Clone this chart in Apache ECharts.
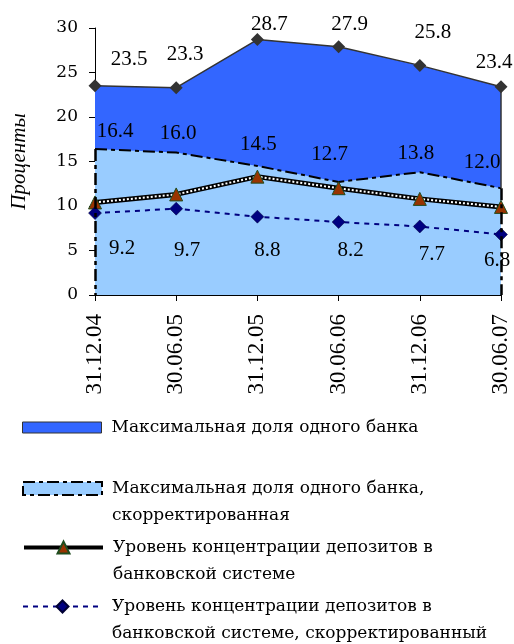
<!DOCTYPE html>
<html><head><meta charset="utf-8">
<script src="https://cdn.jsdelivr.net/npm/echarts@6/dist/echarts.min.js"></script>
<style>html,body{margin:0;padding:0;background:#fff}#c{width:514px;height:644px}</style>
</head><body><div id="c"></div>
<script>
// ---- data ----
const categories = ['31.12.04', '30.06.05', '31.12.05', '30.06.06', '31.12.06', '30.06.07'];
const maxShare = [23.5, 23.3, 28.7, 27.9, 25.8, 23.4];
const maxShareAdj = [16.4, 16.0, 14.5, 12.7, 13.8, 12.0];
const concentration = [10.4, 11.3, 13.3, 12.0, 10.8, 9.9];
const concentrationAdj = [9.2, 9.7, 8.8, 8.2, 7.7, 6.8];
const yMin = 0, yMax = 30, yStep = 5;
const yAxisTitle = 'Проценты';
const legendLines = [
  ['Максимальная доля одного банка'],
  ['Максимальная доля одного банка,', 'скорректированная'],
  ['Уровень концентрации депозитов в', 'банковской системе'],
  ['Уровень концентрации депозитов в', 'банковской системе, скорректированный']
];

// ---- layout (label nudges in px) ----
const offMax = [[34,-26],[9,-33],[12,-15],[11,-22],[13,-33],[-7,-24]];
const offAdj = [[20,-18],[2,-19],[1,-21],[-9,-27],[-4,-19],[-19,-26]];
const offConcAdj = [[27,35],[11,42],[10,34],[12,28],[12,28],[-4,26]];

const names = legendLines.map(l => l.join(' '));
const wrapped = {};
// multi-line entries get an empty first line so that the first text line sits level with the icon
names.forEach((n, i) => wrapped[n] = (legendLines[i].length > 1 ? '\n' : '') + legendLines[i].join('\n'));

const withOffsets = (arr, offs) => arr.map((v, i) => ({ value: v, label: { offset: offs[i] } }));
const last = categories.length - 1;
const dataLabel = {
  show: true, position: 'inside', color: '#000',
  fontFamily: 'Liberation Serif', fontSize: 21,
  formatter: p => Number(p.value).toFixed(1)
};
const dashDot = [12, 4, 4, 4];

const legendBase = {
  orient: 'vertical', left: 22, padding: 0, itemWidth: 79, itemGap: 0,
  selectedMode: false,
  formatter: n => wrapped[n],
  textStyle: { fontFamily: 'DejaVu Serif', fontSize: 17, lineHeight: 27, color: '#000', padding: [0, 0, 0, 5] }
};

const chart = echarts.init(document.getElementById('c'));
chart.setOption({
  animation: false,
  backgroundColor: '#fff',
  grid: { left: 95, right: 13, top: 28, bottom: 349 },
  xAxis: {
    type: 'category', data: categories, boundaryGap: false,
    axisLine: { lineStyle: { color: '#000', width: 1 } },
    axisTick: { show: true, length: 6, lineStyle: { color: '#000' } },
    axisLabel: { rotate: 90, color: '#000', fontFamily: 'Liberation Serif', fontSize: 23, margin: 19 },
    splitLine: { show: false }
  },
  yAxis: {
    type: 'value', min: yMin, max: yMax, interval: yStep,
    axisLine: { show: true, lineStyle: { color: '#000', width: 1 } },
    axisTick: { show: true, length: 6, lineStyle: { color: '#000' } },
    axisLabel: { color: '#000', fontFamily: 'DejaVu Serif', fontSize: 17, margin: 17 },
    splitLine: { show: false },
    name: yAxisTitle, nameLocation: 'middle', nameRotate: 90, nameGap: 65,
    nameTextStyle: { fontFamily: 'Liberation Serif', fontStyle: 'italic', fontSize: 21, color: '#000' }
  },
  legend: [
    Object.assign({}, legendBase, { top: 414, itemHeight: 11,
      data: [{ name: names[0], icon: 'rect', itemStyle: { color: '#3366FF', borderColor: '#333', borderWidth: 1 } }] }),
    Object.assign({}, legendBase, { top: 448, itemHeight: 13,
      data: [{ name: names[1], icon: 'rect', itemStyle: { color: '#99CCFF', borderColor: '#000', borderWidth: 2, borderType: dashDot } }] }),
    Object.assign({}, legendBase, { top: 507, itemHeight: 15,
      data: [{ name: names[2], lineStyle: { color: '#000', width: 4, type: 'solid' } }] }),
    Object.assign({}, legendBase, { top: 566, itemHeight: 15,
      data: [{ name: names[3] }] })
  ],
  series: [
    {
      name: names[0], type: 'line', data: withOffsets(maxShare, offMax),
      symbol: 'diamond', symbolSize: 13,
      itemStyle: { color: '#333333' },
      lineStyle: { color: '#333333', width: 1.5 },
      areaStyle: { color: '#3366FF', opacity: 1 },
      label: dataLabel,
      markLine: {
        silent: true, symbol: ['none', 'none'], label: { show: false },
        lineStyle: { color: '#333333', width: 1.5, type: 'solid' },
        data: [[{ coord: [categories[last], maxShare[last]] }, { coord: [categories[last], maxShareAdj[last]] }]]
      }
    },
    {
      name: names[1], type: 'line', data: withOffsets(maxShareAdj, offAdj),
      symbol: 'circle', symbolSize: 1,
      itemStyle: { color: 'rgba(0,0,0,0)' },
      lineStyle: { color: '#000', width: 2, type: dashDot },
      areaStyle: { color: '#99CCFF', opacity: 1 },
      label: dataLabel,
      markLine: {
        silent: true, symbol: ['none', 'none'], label: { show: false },
        lineStyle: { color: '#000', width: 2.5, type: dashDot },
        data: [
          [{ coord: [categories[0], maxShareAdj[0]] }, { coord: [categories[0], yMin] }],
          [{ coord: [categories[last], maxShareAdj[last]] }, { coord: [categories[last], yMin] }]
        ]
      }
    },
    {
      name: '_concentration_base', type: 'line', data: concentration,
      symbol: 'none', silent: true,
      lineStyle: { color: '#000', width: 5 }
    },
    {
      name: names[2], type: 'line', data: concentration,
      symbol: 'triangle', symbolSize: 13,
      itemStyle: { color: '#993300', borderColor: '#1f4d1f', borderWidth: 1 },
      lineStyle: { color: '#fff', width: 2, type: [2, 2] }
    },
    {
      name: names[3], type: 'line', data: withOffsets(concentrationAdj, offConcAdj),
      symbol: 'diamond', symbolSize: 13,
      itemStyle: { color: '#000080', borderColor: '#000033', borderWidth: 0.5 },
      lineStyle: { color: '#000080', width: 2, type: [5, 5] },
      label: dataLabel
    }
  ]
});
</script>
</body></html>
